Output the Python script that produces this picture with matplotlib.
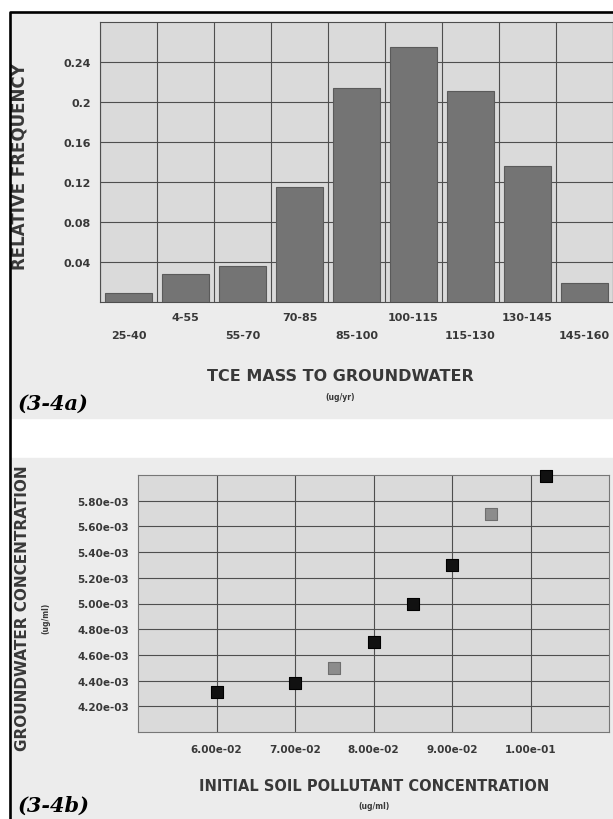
import numpy as np
import matplotlib
matplotlib.use("Agg")
from matplotlib import pyplot as plt
from matplotlib.patches import Rectangle
from matplotlib.lines import Line2D

# --- data: panel (3-4a), histogram
mass_bins = ['25-40', '4-55', '55-70', '70-85', '85-100',
             '100-115', '115-130', '130-145', '145-160']
rel_freq = [0.0093, 0.0283, 0.036, 0.115, 0.214, 0.255, 0.211, 0.136, 0.0187]
freq_ticks = [0.04, 0.08, 0.12, 0.16, 0.2, 0.24]
freq_labels = ['0.04', '0.08', '0.12', '0.16', '0.2', '0.24']

# --- data: panel (3-4b), scatter
soil_conc = [0.06, 0.07, 0.08, 0.085, 0.09, 0.102]
gw_conc = [4.31e-3, 4.38e-3, 4.70e-3, 5.00e-3, 5.30e-3, 5.99e-3]
soil_conc_alt = [0.075, 0.095]
gw_conc_alt = [4.50e-3, 5.70e-3]
soil_ticks = [0.06, 0.07, 0.08, 0.09, 0.10]
gw_ticks = [4.2e-3, 4.4e-3, 4.6e-3, 4.8e-3, 5.0e-3, 5.2e-3, 5.4e-3, 5.6e-3, 5.8e-3]

W, H = 613, 820
TXT = '#383838'
GRID = '#4e4e4e'
PANEL = '#ececec'
PLOTBG = '#dadada'


def fx(x):
	return x / W


def fy(y):
	return 1 - y / H


def rect(x0, y0, x1, y1):
	return [fx(x0), fy(y1), (x1 - x0) / W, (y1 - y0) / H]


fig = plt.figure(figsize=(W / 100, H / 100), dpi=100)
fig.patch.set_facecolor('white')

# panel backgrounds
fig.patches.append(Rectangle((fx(10), fy(419)), (W - 10) / W, (419 - 13) / H,
                             transform=fig.transFigure, color=PANEL, zorder=-10))
fig.patches.append(Rectangle((fx(10), fy(H)), (W - 10) / W, (H - 459) / H,
                             transform=fig.transFigure, color=PANEL, zorder=-10))
# black frame, top and left
fig.lines.append(Line2D([fx(9.5), fx(9.5), fx(W)], [fy(H), fy(13), fy(13)],
                        transform=fig.transFigure, color='black', lw=1.9, zorder=5))

bold = dict(fontfamily='DejaVu Sans', fontweight='bold', color=TXT)

# ---------------- (3-4a)
ax = fig.add_axes(rect(100, 23, 613, 303))
ax.set_facecolor(PLOTBG)
x = np.arange(len(mass_bins))
ax.bar(x, rel_freq, width=0.83, color='#747474', edgecolor='#5a5a5a', lw=0.8, zorder=3)
ax.set_xlim(-0.5, len(mass_bins) - 0.5)
ax.set_ylim(0, 0.28)
ax.set_yticks(freq_ticks)
ax.set_yticklabels(freq_labels, fontsize=8, **bold)
ax.set_xticks(x)
ax.set_xticklabels(mass_bins, fontsize=8, **bold)
ax.set_xticks(np.arange(-0.5, len(mass_bins)), minor=True)
ax.tick_params(which='both', length=0)
ax.tick_params(axis='y', pad=6.5)
for i, t in enumerate(ax.xaxis.get_major_ticks()):
	t.set_pad(7.5 if i % 2 else 20)
ax.grid(axis='y', which='major', color=GRID, lw=0.8, zorder=1)
ax.grid(axis='x', which='minor', color=GRID, lw=0.8, zorder=1)
for s in ax.spines.values():
	s.set_color(GRID)
	s.set_linewidth(0.8)

fig.text(fx(20), fy(167), 'RELATIVE FREQUENCY', rotation=90, ha='center', va='center',
         fontsize=12, **bold)
fig.text(fx(340), fy(377), 'TCE MASS TO GROUNDWATER', ha='center', va='center',
         fontsize=11.5, **bold)
fig.text(fx(340), fy(398), '(ug/yr)', ha='center', va='center', fontsize=5.5, **bold)
fig.text(fx(18), fy(404), '(3-4a)', ha='left', va='center', fontsize=15,
         fontfamily='DejaVu Serif', fontweight='bold', fontstyle='italic', color='black')

# ---------------- (3-4b)
ax2 = fig.add_axes(rect(138, 476, 609, 733))
ax2.set_facecolor(PLOTBG)
ax2.scatter(soil_conc, gw_conc, marker='s', s=75, color='#111111', edgecolor='#000000',
            lw=0.8, zorder=4, clip_on=False)
ax2.scatter(soil_conc_alt, gw_conc_alt, marker='s', s=75, color='#8c8c8c',
            edgecolor='#6e6e6e', lw=0.8, zorder=4, clip_on=False)
ax2.set_xlim(0.05, 0.11)
ax2.set_ylim(4.0e-3, 6.0e-3)
ax2.set_xticks(soil_ticks)
ax2.set_xticklabels(['{:.2e}'.format(v) for v in soil_ticks], fontsize=7.5, **bold)
ax2.set_yticks(gw_ticks)
ax2.set_yticklabels(['{:.2e}'.format(v) for v in gw_ticks], fontsize=7.5, **bold)
ax2.tick_params(length=0)
ax2.tick_params(axis='y', pad=6.5)
ax2.tick_params(axis='x', pad=9)
ax2.grid(True, color=GRID, lw=0.8, zorder=1)
for s in ax2.spines.values():
	s.set_color('#777777')
	s.set_linewidth(0.8)

fig.text(fx(23), fy(608), 'GROUNDWATER CONCENTRATION', rotation=90, ha='center', va='center',
         fontsize=11, **bold)
fig.text(fx(46), fy(618), '(ug/ml)', rotation=90, ha='center', va='center', fontsize=5.5, **bold)
fig.text(fx(374), fy(787), 'INITIAL SOIL POLLUTANT CONCENTRATION', ha='center', va='center',
         fontsize=10.5, **bold)
fig.text(fx(374), fy(807), '(ug/ml)', ha='center', va='center', fontsize=5.5, **bold)
fig.text(fx(18), fy(806), '(3-4b)', ha='left', va='center', fontsize=15,
         fontfamily='DejaVu Serif', fontweight='bold', fontstyle='italic', color='black')

fig.savefig('out.png', dpi=100)
